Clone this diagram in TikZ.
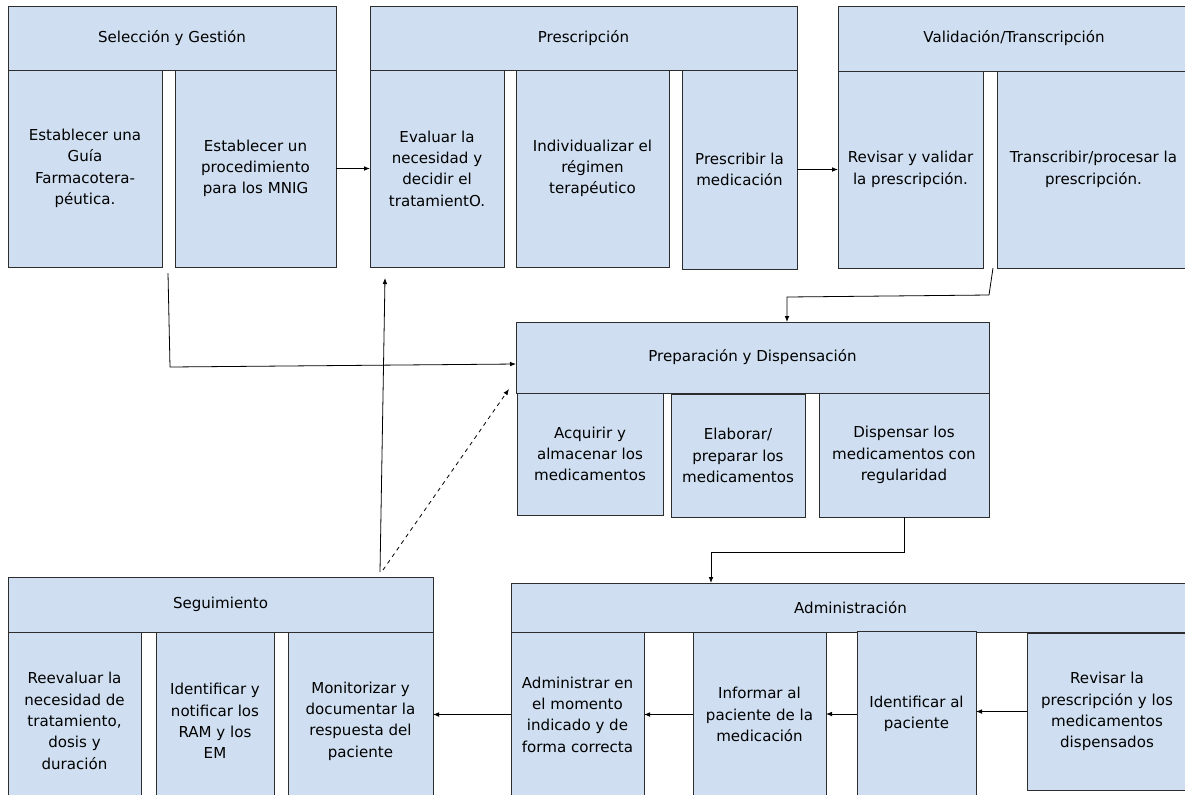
\documentclass[tikz,border=0pt]{standalone}
\usepackage{fontspec}
\setmainfont{DejaVu Sans}
\usetikzlibrary{arrows.meta,calc}
\definecolor{boxblue}{RGB}{207,223,241}
\definecolor{edge}{RGB}{45,45,45}
\newcommand\mybox[6]{%
  \pgfmathsetmacro\mbw{(#4-#2)*0.75}%
  \pgfmathsetmacro\mbh{(#5-#3)*0.75}%
  \node[box,minimum width=\mbw pt,minimum height=\mbh pt] (#1) at ({(#2+#4)/2},{(#3+#5)/2}) {#6};}
\begin{document}
\begin{tikzpicture}[x=0.75pt,y=-0.75pt,
  box/.style={draw=edge,fill=boxblue,line width=0.6pt,inner sep=0pt,outer sep=0pt,align=center,font=\fontsize{11.3}{16}\selectfont},
  arr/.style={draw=black,line width=0.6pt,-{Latex[length=4.5pt,width=3.5pt]}},
  darr/.style={arr,dashed}]
\clip (0,0) rectangle (1185,794);
\fill[white] (0,0) rectangle (1185,794);
% Seleccion y Gestion
\mybox{selH}{8}{6}{336}{70}{Selección y Gestión}
\mybox{selB1}{8}{70}{162}{267}{Establecer una\\Guía\\Farmacotera-\\péutica.}
\mybox{selB2}{175}{70}{336}{267}{Establecer un\\procedimiento\\para los MNIG}
% Prescripcion
\mybox{presH}{370}{6}{797}{70}{Prescripción}
\mybox{evaluar}{370}{70}{504}{267}{Evaluar la\\necesidad y\\decidir el\\tratamientO.}
\mybox{indiv}{516}{70}{669}{267}{Individualizar el\\régimen\\terapéutico}
\mybox{prescribir}{682}{70}{797}{269}{Prescribir la\\medicación}
% Validacion
\mybox{valH}{838}{6}{1190}{71}{Validación/Transcripción}
\mybox{revisarval}{838}{71}{983}{268}{Revisar y validar\\la prescripción.}
\mybox{transcribir}{997}{71}{1190}{268}{Transcribir/procesar la\\prescripción.}
% Preparacion
\mybox{prepH}{516}{322}{989}{393}{Preparación y Dispensación}
\mybox{adquirir}{517}{393}{663}{515}{Acquirir y\\almacenar los\\medicamentos}
\mybox{elaborar}{671}{394}{805}{517}{Elaborar/\\preparar los\\medicamentos}
\mybox{dispensar}{819}{393}{989}{517}{Dispensar los\\medicamentos con\\regularidad}
% Seguimiento
\mybox{segH}{8}{577}{433}{632}{Seguimiento}
\mybox{segB1}{8}{632}{141}{810}{Reevaluar la\\necesidad de\\tratamiento,\\dosis y\\duración}
\mybox{segB2}{156}{632}{274}{810}{Identificar y\\notificar los\\RAM y los\\EM}
\mybox{segB3}{288}{632}{433}{810}{Monitorizar y\\documentar la\\respuesta del\\paciente}
% Administracion
\mybox{adminH}{511}{583}{1190}{632}{Administración}
\mybox{administrar}{511}{632}{644}{797}{Administrar en\\el momento\\indicado y de\\forma correcta}
\mybox{informar}{693}{632}{826}{797}{Informar al\\paciente de la\\medicación}
\mybox{identificar}{857}{631}{976}{797}{Identificar al\\paciente}
\mybox{revisarpresc}{1027}{633}{1187}{790}{Revisar la\\prescripción y los\\medicamentos\\dispensados}
% connectors
\draw[arr] (selB2.east) -- (evaluar.west);
\draw[arr] (prescribir.east) -- (revisarval.west);
\coordinate (tr1) at (989,295);
\coordinate (tr2) at (787,297);
\draw[arr] ($(transcribir.south west)+(-4,0)$) -- (tr1) -- (tr2) -- (tr2 |- prepH.north);
\draw[arr] ($(selB1.south east)+(6,6)$) -- ($(selB1.south east)+(8,100)$) -- ($(prepH.west)+(0,6.5)$);
\draw[arr] ($(segH.north west)+(372,-5)$) -- ($(evaluar.south west)+(15,11)$);
\draw[darr] ($(segH.north west)+(375,-7)$) -- ($(prepH.south west)+(-7,-4)$);
\draw[arr] (dispensar.south) -- ++(0,35) -| ($(adminH.north west)+(200,0)$);
\draw[arr] (revisarpresc.west) -- (identificar.east |- revisarpresc.west);
\draw[arr] (identificar.west) -- (informar.east |- identificar.west);
\draw[arr] (informar.west) -- (administrar.east |- informar.west);
\draw[arr] (administrar.west) -- (segB3.east |- administrar.west);
\end{tikzpicture}
\end{document}
